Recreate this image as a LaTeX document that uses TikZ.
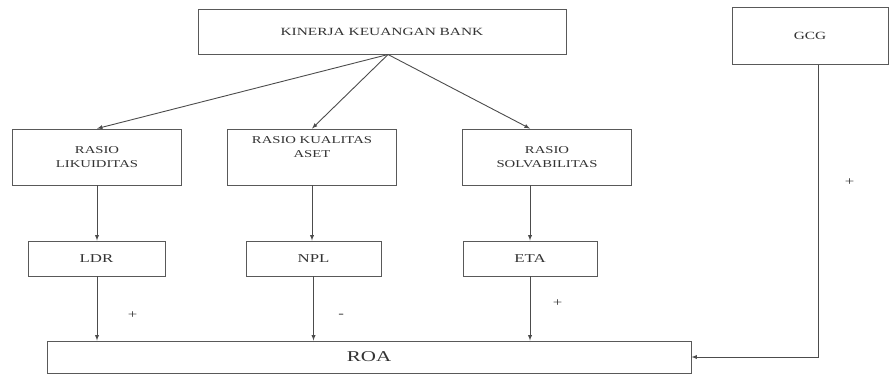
\documentclass[tikz,border=0pt]{standalone}
\usepackage{fontspec}
\setmainfont{Liberation Serif}
\newfontfamily\widefont[FakeStretch=1.4]{Liberation Serif}
\usetikzlibrary{arrows}

\begin{document}
\begin{tikzpicture}[x=1pt,y=-1pt]
\tikzstyle{box}=[rectangle,text centered, draw=black!65, line width=0.9pt, fill=white, align=center, inner sep=2pt, text=black!80]
\tikzstyle{arrow}=[line width=0.9pt,draw=black!70,->,>=latex]
\tikzstyle{sign}=[text=black!80, font=\widefont\fontsize{12}{14}\selectfont]
\useasboundingbox (0,0) rectangle (890,376);
\node[box, minimum width=368pt, minimum height=45pt, font=\widefont\fontsize{11}{13}\selectfont] (kin) at (382,32) {KINERJA KEUANGAN BANK};
\node[box, minimum width=156pt, minimum height=57pt, font=\widefont\fontsize{11}{13}\selectfont] (gcg) at (810,36) {GCG};
\node[box, minimum width=169pt, minimum height=56pt, font=\widefont\fontsize{10.5}{14}\selectfont] (rl) at (97,157) {RASIO\\LIKUIDITAS};
\node[box, minimum width=169pt, minimum height=56pt, font=\widefont\fontsize{10.5}{14}\selectfont] (rk) at (312,157) {RASIO KUALITAS\\ASET\\[5pt]};
\node[box, minimum width=169pt, minimum height=56pt, font=\widefont\fontsize{10.5}{14}\selectfont] (rs) at (547,157) {RASIO\\SOLVABILITAS};
\node[box, minimum width=137pt, minimum height=35pt, font=\widefont\fontsize{12}{14}\selectfont] (ldr) at (96.5,258.5) {LDR};
\node[box, minimum width=135pt, minimum height=35pt, font=\widefont\fontsize{12}{14}\selectfont] (npl) at (313.5,258.5) {NPL};
\node[box, minimum width=134pt, minimum height=35pt, font=\widefont\fontsize{12}{14}\selectfont] (eta) at (530,258.5) {ETA};
\node[box, minimum width=644pt, minimum height=32pt, font=\widefont\fontsize{15}{17}\selectfont] (roa) at (369,357) {ROA};
\coordinate (split) at (388,54.5);
\draw[arrow] (split) -- (rl.north);
\draw[arrow] (split) -- (rk.north);
\draw[arrow] (split) -- (rs.north -| 530,0);
\draw[arrow] (rl) -- (rl |- ldr.north);
\draw[arrow] (rk) -- (rk |- npl.north);
\draw[arrow] (rs.south -| 530,0) -- (eta.north -| 530,0);
\draw[arrow] (ldr.south -| rl) -- node[sign, pos=0.6, right=27pt]{+} (roa.north -| rl);
\draw[arrow] (npl) -- node[sign, pos=0.62, right=21pt]{-} (npl |- roa.north);
\draw[arrow] (eta.south -| 530,0) -- node[sign, pos=0.42, right=19pt]{+} (roa.north -| 530,0);
\draw[arrow] (gcg.south -| 818,0) |- node[sign, pos=0.2, right=23pt]{+} (roa.east);
\end{tikzpicture}
\end{document}
